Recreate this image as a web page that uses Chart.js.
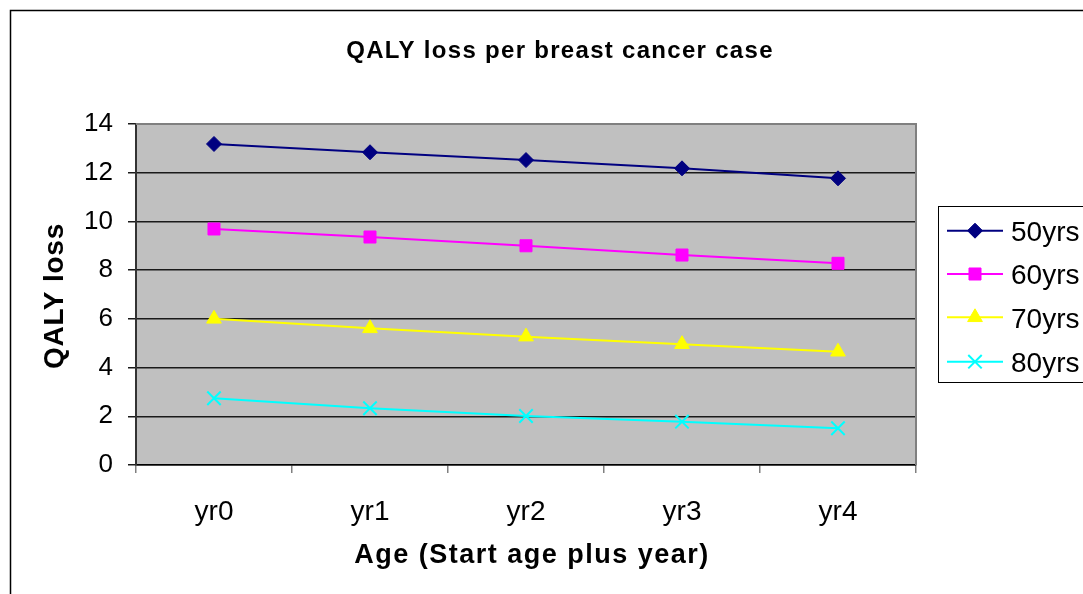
<!DOCTYPE html>
<html>
<head>
<meta charset="utf-8">
<script src="https://cdn.jsdelivr.net/npm/chart.js@4"></script>
<style>
  html, body { margin: 0; padding: 0; background: #fff; }
</style>
</head>
<body>
<canvas id="qalyChart" width="1083" height="594"></canvas>
<script>
// data
const years = ['yr0', 'yr1', 'yr2', 'yr3', 'yr4'];
const loss50 = [13.18, 12.84, 12.52, 12.18, 11.77];
const loss60 = [9.69, 9.36, 9.0, 8.62, 8.28];
const loss70 = [6.0, 5.61, 5.27, 4.96, 4.65];
const loss80 = [2.74, 2.33, 2.01, 1.78, 1.51];
const seriesNames = ['50yrs', '60yrs', '70yrs', '80yrs'];
const yTicks = [0, 2, 4, 6, 8, 10, 12, 14];

const FONT = "'Liberation Sans', Arial, sans-serif";

// text with a bit of letter spacing (bold titles look spread out in the original)
function spacedText(ctx, text, x, y, size, ls) {
    ctx.save();
    ctx.font = 'bold ' + size + 'px ' + FONT;
    ctx.fillStyle = '#000';
    ctx.textAlign = 'center';
    ctx.textBaseline = 'alphabetic';
    if ('letterSpacing' in ctx) ctx.letterSpacing = ls + 'px';
    ctx.fillText(text, x, y);
    ctx.restore();
}

const framePlugin = {
    id: 'frame',
    beforeDraw(chart) {
        const { ctx, chartArea: a } = chart;
        ctx.save();
        ctx.fillStyle = '#fff';
        ctx.fillRect(0, 0, chart.width, chart.height);
        ctx.fillStyle = '#c0c0c0';
        ctx.fillRect(a.left, a.top, a.right - a.left, a.bottom - a.top);
        ctx.restore();
    },
    beforeDatasetsDraw(chart) {
        const { ctx, chartArea: a } = chart;
        ctx.save();
        ctx.strokeStyle = '#808080';
        ctx.lineWidth = 2;
        ctx.beginPath();
        ctx.moveTo(a.left, a.top);
        ctx.lineTo(a.right, a.top);
        ctx.lineTo(a.right, a.bottom);
        ctx.stroke();
        ctx.restore();
    },
    afterDraw(chart) {
        const { ctx } = chart;
        // outer chart frame (cut by the picture edge on right/bottom)
        ctx.save();
        ctx.strokeStyle = '#000';
        ctx.lineWidth = 1.5;
        ctx.strokeRect(10.5, 10.5, 1300, 1300);
        ctx.restore();

        spacedText(ctx, 'QALY loss per breast cancer case', 560, 58, 24, 1.3);
        spacedText(ctx, 'Age (Start age plus year)', 532, 563, 27, 1.5);
        ctx.save();
        ctx.translate(63, 296);
        ctx.rotate(-Math.PI / 2);
        spacedText(ctx, 'QALY loss', 0, 0, 28, 0.8);
        ctx.restore();

        // legend box
        ctx.save();
        ctx.strokeStyle = '#000';
        ctx.lineWidth = 1;
        ctx.strokeRect(938.5, 206.5, 200, 176);
        const rowY = [230.7, 274, 317.3, 361.7];
        chart.data.datasets.forEach((ds, i) => {
            const y = rowY[i];
            ctx.strokeStyle = ds.borderColor;
            ctx.lineWidth = 2;
            ctx.beginPath();
            ctx.moveTo(947, y);
            ctx.lineTo(1003, y);
            ctx.stroke();
            ctx.fillStyle = ds.pointBackgroundColor;
            ctx.strokeStyle = ds.pointBorderColor;
            ctx.lineWidth = ds.pointBorderWidth;
            Chart.helpers.drawPoint(ctx, {
                pointStyle: ds.pointStyle, radius: ds.pointRadius,
                borderWidth: ds.pointBorderWidth, rotation: 0
            }, 975, y);
            ctx.fillStyle = '#000';
            ctx.font = '28px ' + FONT;
            ctx.textAlign = 'left';
            ctx.textBaseline = 'alphabetic';
            ctx.fillText(seriesNames[i], 1011, y + 10.3);
        });
        ctx.restore();
    }
};

function lineSet(name, values, color, style, radius, pbw) {
    return {
        label: name,
        data: values,
        borderColor: color,
        backgroundColor: color,
        borderWidth: 2,
        pointStyle: style,
        pointRadius: radius,
        pointHoverRadius: radius,
        pointBackgroundColor: color,
        pointBorderColor: color,
        pointBorderWidth: pbw,
        tension: 0,
        fill: false
    };
}

new Chart(document.getElementById('qalyChart'), {
    type: 'line',
    data: {
        labels: years,
        datasets: [
            lineSet(seriesNames[0], loss50, '#000080', 'rectRot', 7.5, 1),
            lineSet(seriesNames[1], loss60, '#ff00ff', 'rect', 8.5, 1),
            lineSet(seriesNames[2], loss70, '#ffff00', 'triangle', 8.5, 1),
            lineSet(seriesNames[3], loss80, '#00ffff', 'crossRot', 9.5, 2)
        ]
    },
    options: {
        responsive: false,
        animation: false,
        devicePixelRatio: 1,
        layout: { padding: { left: 0, top: 124, right: 167, bottom: 0 } },
        plugins: {
            legend: { display: false },
            title: { display: false },
            tooltip: { enabled: false }
        },
        scales: {
            x: {
                type: 'category',
                offset: true,
                afterFit(s) { s.height = 129; },
                grid: {
                    offset: true,
                    drawOnChartArea: false,
                    color: '#808080',
                    tickLength: 8,
                    lineWidth: 1.5
                },
                border: { color: '#000', width: 1.5 },
                ticks: {
                    color: '#000',
                    font: { family: FONT, size: 28 },
                    padding: 22,
                    maxRotation: 0
                }
            },
            y: {
                min: 0,
                max: 14,
                afterFit(s) { s.width = 136; },
                afterBuildTicks(s) { s.ticks = yTicks.map(v => ({ value: v })); },
                grid: {
                    color: (c) => (c.tick && c.tick.value === 14) ? 'rgba(0,0,0,0)' : '#1a1a1a',
                    tickColor: '#1a1a1a',
                    tickLength: 8,
                    lineWidth: 1.5
                },
                border: { color: '#333', width: 2 },
                ticks: {
                    color: '#000',
                    font: { family: FONT, size: 26 },
                    padding: 15
                }
            }
        }
    },
    plugins: [framePlugin]
});
</script>
</body>
</html>
